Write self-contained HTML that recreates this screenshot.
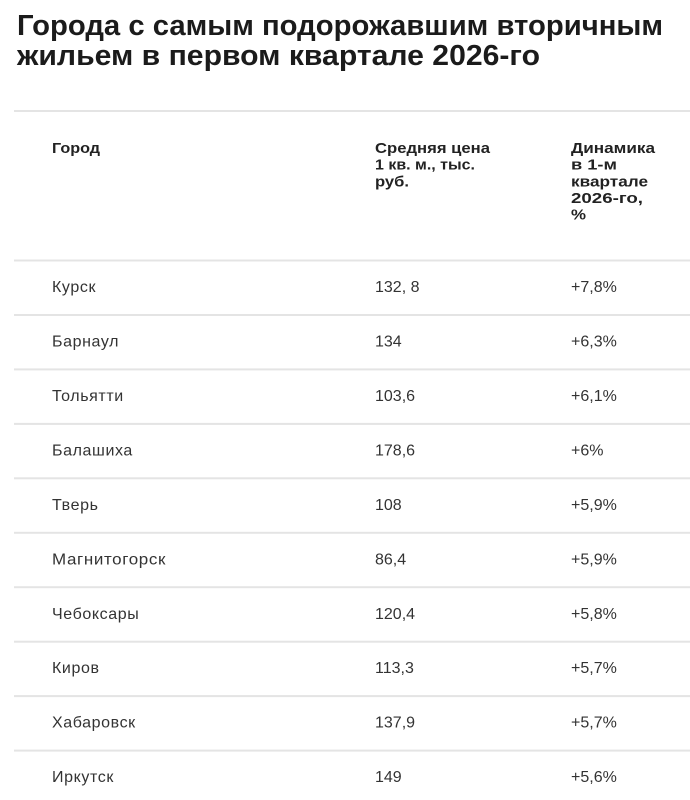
<!DOCTYPE html>
<html>
<head>
<meta charset="utf-8">
<style>
  html, body { margin: 0; padding: 0; background: #ffffff; }
  body { width: 690px; height: 800px; overflow: hidden; }
  svg { display: block; }
  text { font-family: "Liberation Sans", "Noto Sans CJK SC", sans-serif; }
  .t { font-size: 29px; font-weight: bold; fill: #1b1b1b; }
  .h { font-size: 15px; font-weight: bold; fill: #222222; }
  .c { font-size: 16px; fill: #333333; letter-spacing: 0.6px; }
  .n { font-size: 16px; fill: #333333; }
</style>
</head>
<body>
<svg width="690" height="800" viewBox="0 0 690 800" xmlns="http://www.w3.org/2000/svg">
  <rect x="0" y="0" width="690" height="800" fill="#ffffff"/>

  <!-- Title -->
  <text class="t" x="17" y="35" textLength="646" lengthAdjust="spacingAndGlyphs">Города с самым подорожавшим вторичным</text>
  <text class="t" x="17" y="65" textLength="523" lengthAdjust="spacingAndGlyphs">жильем в первом квартале 2026-го</text>

  <!-- Lines -->
  <g fill="#e4e4e4">
    <rect x="14" y="110" width="676" height="2"/>
    <rect x="14" y="259.5" width="676" height="2"/>
    <rect x="14" y="314" width="676" height="2"/>
    <rect x="14" y="368.4" width="676" height="2"/>
    <rect x="14" y="422.9" width="676" height="2"/>
    <rect x="14" y="477.3" width="676" height="2"/>
    <rect x="14" y="531.8" width="676" height="2"/>
    <rect x="14" y="586.2" width="676" height="2"/>
    <rect x="14" y="640.7" width="676" height="2"/>
    <rect x="14" y="695.1" width="676" height="2"/>
    <rect x="14" y="749.6" width="676" height="2"/>
  </g>

  <!-- Header -->
  <text class="h" x="52" y="153" textLength="48" lengthAdjust="spacingAndGlyphs">Город</text>

  <text class="h" x="375" y="153" textLength="115" lengthAdjust="spacingAndGlyphs">Средняя цена</text>
  <text class="h" x="375" y="169.7" textLength="100" lengthAdjust="spacingAndGlyphs">1 кв. м., тыс.</text>
  <text class="h" x="375" y="186.4" textLength="34" lengthAdjust="spacingAndGlyphs">руб.</text>

  <text class="h" x="571" y="153" textLength="84" lengthAdjust="spacingAndGlyphs">Динамика</text>
  <text class="h" x="571" y="169.7" textLength="46" lengthAdjust="spacingAndGlyphs">в 1-м</text>
  <text class="h" x="571" y="186.4" textLength="77" lengthAdjust="spacingAndGlyphs">квартале</text>
  <text class="h" x="571" y="203" textLength="72" lengthAdjust="spacingAndGlyphs">2026-го,</text>
  <text class="h" x="571" y="219.7" textLength="15" lengthAdjust="spacingAndGlyphs">%</text>

  <!-- Rows -->
  <text class="c" x="52" y="292.1">Курск</text>
  <text class="n" x="375" y="292.1">132, 8</text>
  <text class="n" x="571" y="292.1">+7,8%</text>

  <text class="c" x="52" y="346.5">Барнаул</text>
  <text class="n" x="375" y="346.5">134</text>
  <text class="n" x="571" y="346.5">+6,3%</text>

  <text class="c" x="52" y="401">Тольятти</text>
  <text class="n" x="375" y="401">103,6</text>
  <text class="n" x="571" y="401">+6,1%</text>

  <text class="c" x="52" y="455.4">Балашиха</text>
  <text class="n" x="375" y="455.4">178,6</text>
  <text class="n" x="571" y="455.4">+6%</text>

  <text class="c" x="52" y="509.9">Тверь</text>
  <text class="n" x="375" y="509.9">108</text>
  <text class="n" x="571" y="509.9">+5,9%</text>

  <text class="c" x="52" y="564.3" textLength="114" lengthAdjust="spacingAndGlyphs">Магнитогорск</text>
  <text class="n" x="375" y="564.3">86,4</text>
  <text class="n" x="571" y="564.3">+5,9%</text>

  <text class="c" x="52" y="618.8">Чебоксары</text>
  <text class="n" x="375" y="618.8">120,4</text>
  <text class="n" x="571" y="618.8">+5,8%</text>

  <text class="c" x="52" y="673.2">Киров</text>
  <text class="n" x="375" y="673.2">113,3</text>
  <text class="n" x="571" y="673.2">+5,7%</text>

  <text class="c" x="52" y="727.7">Хабаровск</text>
  <text class="n" x="375" y="727.7">137,9</text>
  <text class="n" x="571" y="727.7">+5,7%</text>

  <text class="c" x="52" y="782.1">Иркутск</text>
  <text class="n" x="375" y="782.1">149</text>
  <text class="n" x="571" y="782.1">+5,6%</text>
</svg>
</body>
</html>
